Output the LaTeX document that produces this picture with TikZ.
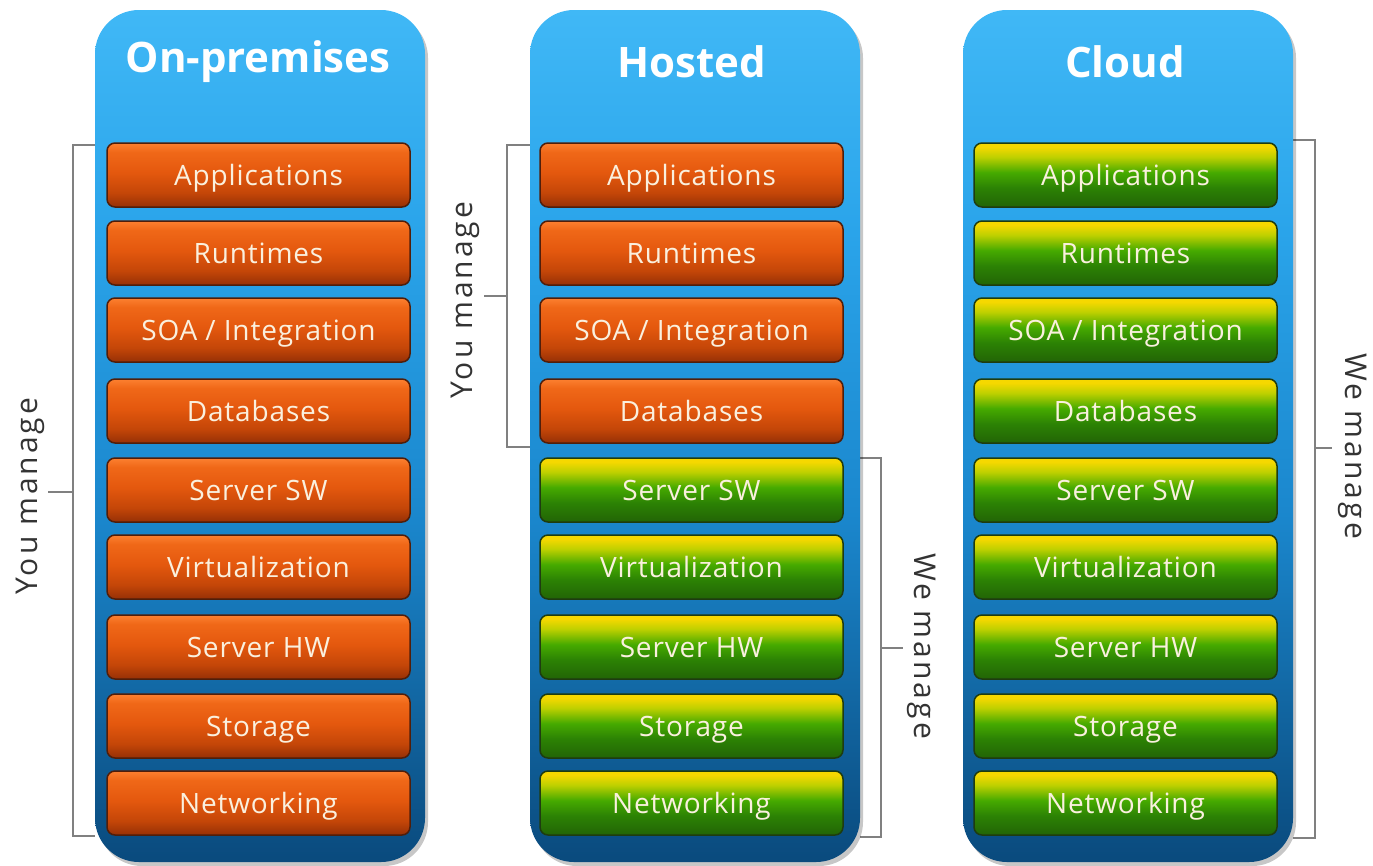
\documentclass[tikz,border=0pt]{standalone}
\usepackage{fontspec}
\setmainfont{Open Sans}
\definecolor{cT}{RGB}{64,184,246}
\definecolor{cM1}{RGB}{42,164,234}
\definecolor{cM2}{RGB}{26,134,204}
\definecolor{cB}{RGB}{10,74,125}
\definecolor{o0}{RGB}{150,48,6}
\definecolor{o1}{RGB}{196,70,8}
\definecolor{o2}{RGB}{228,88,14}
\definecolor{o3}{RGB}{240,104,24}
\definecolor{o4}{RGB}{252,128,48}
\definecolor{odark}{RGB}{80,30,10}
\definecolor{g0}{RGB}{34,100,6}
\definecolor{g1}{RGB}{44,130,4}
\definecolor{g2}{RGB}{70,170,0}
\definecolor{g3}{RGB}{190,208,0}
\definecolor{g4}{RGB}{246,216,0}
\definecolor{gdark}{RGB}{30,60,16}
\definecolor{txt}{RGB}{250,240,222}
\definecolor{brk}{RGB}{128,128,128}
\pgfdeclareverticalshading{colshade}{100bp}{color(0bp)=(cB); color(25bp)=(cB); color(45bp)=(cM2); color(62bp)=(cM1); color(75bp)=(cT); color(100bp)=(cT)}
\pgfdeclareverticalshading{orshade}{100bp}{color(0bp)=(o0); color(25bp)=(o0); color(36bp)=(o1); color(52bp)=(o2); color(68bp)=(o3); color(75bp)=(o4); color(100bp)=(o4)}
\pgfdeclareverticalshading{grshade}{100bp}{color(0bp)=(g0); color(25bp)=(g0); color(40bp)=(g1); color(52bp)=(g2); color(64bp)=(g3); color(72bp)=(g4); color(100bp)=(g4)}
\tikzset{
  column/.style={rectangle, rounded corners=44pt, minimum width=330pt, minimum height=852pt, shading=colshade, inner sep=0pt},
  colshadow/.style={rectangle, rounded corners=44pt, minimum width=330pt, minimum height=852pt, fill=black, opacity=0.22, inner sep=0pt},
  title/.style={text=white, font=\fontsize{42}{46}\selectfont\bfseries},
  bar/.style={rectangle, rounded corners=8pt, minimum width=303pt, minimum height=64pt, inner sep=0pt, text height=26pt, text depth=6pt, line width=1.5pt, text=txt, font=\fontsize{28}{30}\selectfont\addfontfeature{LetterSpace=3}},
  orangebar/.style={bar, shading=orshade, draw=odark},
  greenbar/.style={bar, shading=grshade, draw=gdark},
  brkline/.style={draw=brk, line width=2.5pt},
  brklabel/.style={text=black!80, font=\fontsize{30}{32}\selectfont\addfontfeature{LetterSpace=10}, inner sep=0pt}
}
\begin{document}
\begin{tikzpicture}[x=1pt,y=-1pt]
\useasboundingbox (0,0) rectangle (1373,865);
% brackets (behind columns)
\coordinate (pa1) at (95,145); \coordinate (pa2) at (73,145); \coordinate (pa3) at (73,836); \coordinate (pa4) at (95,836);
\coordinate (ma) at (73,492); \coordinate (mat) at (48,492);
\draw[brkline] (pa1) -- (pa2) -- (pa3) -- (pa4);
\draw[brkline] (ma) -- (mat);
\node[brklabel, rotate=90] (ya) at (30,496) {You manage};
\coordinate (pb1) at (530,145); \coordinate (pb2) at (507,145); \coordinate (pb3) at (507,447); \coordinate (pb4) at (530,447);
\coordinate (mb) at (507,296); \coordinate (mbt) at (484,296);
\draw[brkline] (pb1) -- (pb2) -- (pb3) -- (pb4);
\draw[brkline] (mb) -- (mbt);
\node[brklabel, rotate=90] (yb) at (465,300) {You manage};
\coordinate (qb1) at (860,458); \coordinate (qb2) at (881,458); \coordinate (qb3) at (881,837); \coordinate (qb4) at (860,837);
\coordinate (nb) at (881,648); \coordinate (nbt) at (903,648);
\draw[brkline] (qb1) -- (qb2) -- (qb3) -- (qb4);
\draw[brkline] (nb) -- (nbt);
\node[brklabel, rotate=-90] (wb) at (922,646) {We manage};
\coordinate (qc1) at (1293,140); \coordinate (qc2) at (1315,140); \coordinate (qc3) at (1315,838); \coordinate (qc4) at (1293,838);
\coordinate (nc) at (1315,448); \coordinate (nct) at (1332,448);
\draw[brkline] (qc1) -- (qc2) -- (qc3) -- (qc4);
\draw[brkline] (nc) -- (nct);
\node[brklabel, rotate=-90] (wc) at (1353,446) {We manage};
% columns
\node[colshadow] (sA) at (263,440) {};
\node[colshadow] (sB) at (698,440) {};
\node[colshadow] (sC) at (1131,440) {};
\node[column] (colA) at (260,436) {};
\node[column] (colB) at (695,436) {};
\node[column] (colC) at (1128,436) {};
\node[title] (tA) at (258,62) {On-premises};
\node[title] (tB) at (692,62) {Hosted};
\node[title] (tC) at (1125,62) {Cloud};
% bars
\foreach \lab/\yy [count=\i] in {Applications/175,Runtimes/253,{SOA / Integration}/330,Databases/411,Server SW/490,Virtualization/567,Server HW/647,Storage/726,Networking/803}{
  \node[orangebar] (a\i) at (258.5,\yy) {\lab};
  \ifnum\i<5
    \node[orangebar] (b\i) at (691.5,\yy) {\lab};
  \else
    \node[greenbar] (b\i) at (691.5,\yy) {\lab};
  \fi
  \node[greenbar] (c\i) at (1125.5,\yy) {\lab};
}
\end{tikzpicture}
\end{document}
